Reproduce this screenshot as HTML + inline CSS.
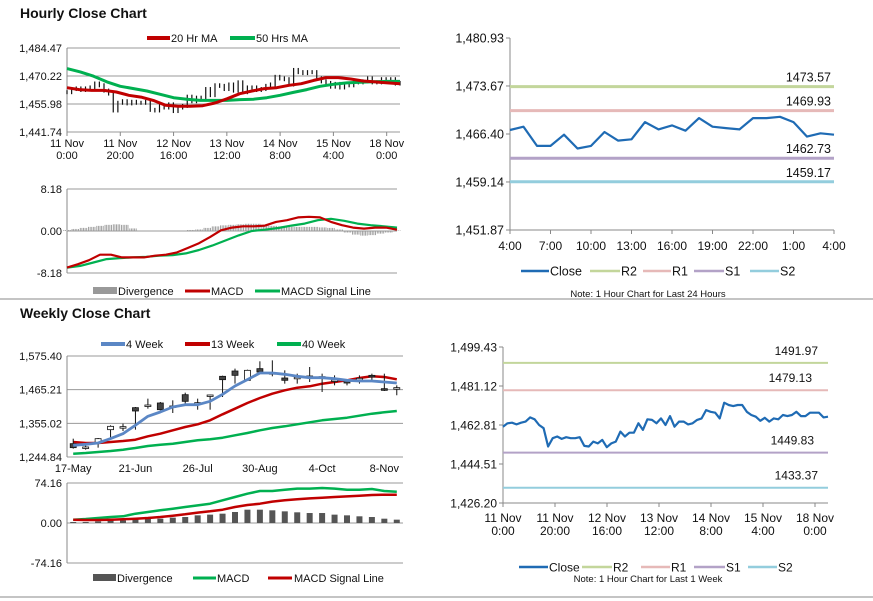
<!DOCTYPE html>
<html><head><meta charset="utf-8">
<style>
html,body{margin:0;padding:0;background:#fff;}
svg{display:block;font-family:"Liberation Sans",Arial,sans-serif;}
</style></head>
<body>
<svg id="root" width="873" height="601" viewBox="0 0 873 601" xmlns="http://www.w3.org/2000/svg">
<line x1="0" y1="299" x2="873" y2="299" stroke="#888" stroke-width="1"/>
<line x1="0" y1="597" x2="873" y2="597" stroke="#888" stroke-width="1"/>
<text x="20" y="18" font-size="14" font-weight="bold" fill="#111">Hourly Close Chart</text>
<text x="20" y="318" font-size="14" font-weight="bold" fill="#111">Weekly Close Chart</text>
</svg>
<script>
// ---------- DATA ----------
// Hourly closes, 11 Nov 0:00 -> 18 Nov (1 week)
const weekHourClose = [1462.0,1463.6,1463.9,1463.1,1463.9,1464.4,1466.4,1465.5,1462.8,1461.3,1452.7,1456.6,1457.4,1456.3,1457.1,1456.6,1456.6,1457.1,1453.0,1452.7,1455.0,1454.2,1455.8,1452.4,1454.2,1455.0,1459.7,1457.4,1459.2,1459.2,1463.6,1460.5,1465.5,1465.2,1463.6,1465.9,1462.8,1467.0,1462.0,1464.4,1464.4,1463.1,1463.6,1465.2,1465.9,1469.8,1469.0,1468.6,1465.9,1473.3,1472.2,1471.7,1472.2,1472.2,1469.0,1467.5,1466.7,1464.8,1466.2,1464.4,1465.9,1465.5,1467.5,1467.0,1467.5,1469.0,1467.0,1467.0,1468.6,1468.6,1468.6,1466.4,1466.7];
const ma20 = [1464.3,1463.3,1462.9,1462.9,1462.1,1460.4,1459.5,1457.8,1455.3,1454.8,1454.8,1455.1,1456.5,1458.7,1461.2,1462.6,1463.8,1464.3,1465.5,1466.3,1468.0,1469.4,1469.4,1468.7,1467.7,1467.2,1466.7,1466.3];
const ma50 = [1474.0,1472.3,1470.1,1467.2,1465.0,1463.8,1462.6,1460.9,1459.2,1458.4,1457.8,1457.8,1457.8,1458.2,1458.4,1459.2,1460.4,1461.9,1463.3,1465.0,1466.0,1466.7,1467.0,1467.3,1467.5,1467.5];
const hrTickLabels = [["11 Nov","0:00"],["11 Nov","20:00"],["12 Nov","16:00"],["13 Nov","12:00"],["14 Nov","8:00"],["15 Nov","4:00"],["18 Nov","0:00"]];
const hrPriceTicks = [1441.74,1455.98,1470.22,1484.47];
const hrMacd = [-7.13,-6.47,-5.68,-4.62,-4.62,-5.15,-5.15,-5.15,-4.82,-4.62,-4.16,-3.30,-2.38,-1.19,0.13,0.66,0.92,0.92,1.06,1.78,2.11,2.64,2.77,2.64,1.78,1.12,0.66,0.46,0.66,0.66,0.26];
const hrSignal = [-7.13,-6.80,-6.14,-5.48,-5.28,-5.15,-5.02,-4.82,-4.69,-4.36,-3.70,-2.84,-1.85,-0.86,0,0.26,0.59,1.06,1.45,2.11,2.38,1.98,1.45,1.12,0.92,0.66];
const hrDiverg = [0.2,0.4,0.6,0.8,1.0,1.2,1.3,1.2,0.5,0.1,0.1,0.1,0.1,0.1,0.1,0.2,0.3,0.6,0.9,1.1,1.2,1.3,1.4,1.4,1.2,1.0,0.9,0.8,0.8,0.8,0.8,0.7,0.6,0.3,-0.3,-0.7,-0.9,-0.8,-0.5,-0.3,0.1];
const hrMacdTicks = [-8.18,0,8.18];
// Last 24 hours
const dayClose = [1467.0,1467.5,1464.6,1464.6,1466.3,1464.2,1464.6,1466.7,1465.4,1465.6,1468.2,1467.1,1467.7,1466.9,1468.8,1467.5,1467.3,1467.1,1468.8,1468.8,1469.0,1468.2,1466.0,1466.5,1466.3];
const dayTickLabels = ["4:00","7:00","10:00","13:00","16:00","19:00","22:00","1:00","4:00"];
const dayPriceTicks = [1451.87,1459.14,1466.40,1473.67,1480.93];
const dayLevels = [1473.57,1469.93,1462.73,1459.17];
const weekLevels = [1491.97,1479.13,1449.83,1433.37];
const levelNames = ["R2","R1","S1","S2"];
const weekPriceTicks = [1426.20,1444.51,1462.81,1481.12,1499.43];
// Weekly candles
const wkOpen  = [1288.5,1277.6,1290.7,1334.3,1342.0,1406.3,1412.8,1421.6,1409.6,1448.8,1420.5,1445.6,1508.9,1526.3,1495.8,1534.0,1518.7,1503.4,1503.4,1507.8,1505.6,1494.7,1495.8,1500.1,1512.1,1468.5,1469.6];
const wkClose = [1275.4,1277.6,1304.8,1345.2,1344.1,1395.4,1415.0,1399.7,1411.8,1427.0,1422.7,1447.8,1497.9,1512.1,1528.5,1523.0,1520.8,1495.8,1505.6,1510.0,1507.8,1496.9,1487.0,1502.3,1506.7,1463.0,1471.8];
const wkHigh  = [1304.8,1286.3,1307.0,1348.5,1354.0,1408.5,1435.8,1424.9,1430.3,1455.4,1435.8,1448.8,1511.0,1533.9,1530.7,1558.0,1561.2,1528.5,1517.6,1539.4,1517.6,1512.1,1497.9,1512.1,1517.6,1517.6,1479.4];
const wkLow   = [1272.1,1268.8,1275.4,1304.8,1329.9,1334.3,1403.0,1397.6,1388.8,1419.4,1399.7,1399.7,1441.2,1484.9,1495.8,1517.6,1508.9,1484.9,1484.9,1490.3,1457.6,1479.4,1479.4,1484.9,1495.8,1460.8,1446.9];
const wk4  = [1283.0,1286.3,1290.7,1304.9,1321.2,1348.5,1378.0,1392.1,1408.5,1416.1,1416.1,1427.0,1449.9,1477.2,1498.0,1519.8,1519.8,1515.4,1508.9,1504.5,1504.5,1501.2,1495.8,1493.6,1493.6,1490.3,1487.0];
const wk13 = [1293.9,1290.7,1290.7,1293.9,1297.2,1301.6,1312.5,1321.2,1332.1,1343.0,1351.8,1364.8,1384.5,1403.0,1421.6,1437.9,1452.1,1463.0,1471.7,1476.1,1484.8,1490.3,1495.8,1503.4,1508.9,1506.7,1499.0];
const wk40 = [1255.7,1257.9,1261.2,1264.5,1268.8,1274.3,1280.8,1285.2,1288.5,1293.9,1299.4,1302.7,1308.1,1315.8,1323.4,1332.1,1339.8,1345.2,1351.8,1358.3,1364.8,1369.2,1373.6,1380.1,1386.7,1391.0,1395.4];
const wkTickLabels = ["17-May","21-Jun","26-Jul","30-Aug","4-Oct","8-Nov"];
const wkPriceTicks = [1244.84,1355.02,1465.21,1575.40];
const wkMacd   = [6.2,7.4,9.3,11.1,12.4,17.3,20.4,23.5,26.6,29.7,32.7,35.8,42.0,48.2,54.4,59.3,59.3,61.8,63.7,63.7,64.9,63.7,61.8,61.8,63.0,59.3,58.1];
const wkSignal = [6.2,5.6,5.6,6.2,6.8,8.0,9.3,11.1,13.6,16.1,19.2,21.6,24.7,29.7,33.4,35.8,39.6,42.0,43.9,45.7,46.9,48.2,49.4,50.7,51.9,52.5,52.5];
const wkDiverg = [1.9,1.9,3.1,4.9,4.9,6.8,8.0,8.0,9.9,11.1,14.2,15.5,17.3,20.4,24.7,24.7,23.5,21.6,19.8,18.5,18.5,15.5,14.2,12.4,11.1,8.0,6.2];
const wkMacdTicks = [-74.16,0,74.16];

// ---------- HELPERS ----------
const NS = "http://www.w3.org/2000/svg";
const root = document.getElementById("root");
function el(tag, attrs, parent){
  const e = document.createElementNS(NS, tag);
  for (const k in attrs) e.setAttribute(k, attrs[k]);
  (parent||root).appendChild(e);
  return e;
}
function txt(x,y,s,size,anchor,fill){
  const t = el("text",{x:x,y:y,"font-size":size,"text-anchor":anchor||"start",fill:fill||"#111"});
  t.textContent = s;
  return t;
}
function yScale(min,max,top,bot){ return v => bot - (v-min)/(max-min)*(bot-top); }
function fmt(v){ return v.toLocaleString("en-US",{minimumFractionDigits:2,maximumFractionDigits:2}); }
function polyline(xs, ys, color, w){
  return el("polyline",{points:xs.map((x,i)=>x.toFixed(1)+","+ys[i].toFixed(1)).join(" "),fill:"none",stroke:color,"stroke-width":w,"stroke-linejoin":"round"});
}
const RED="#c00000", GREEN="#00b050", BLUE4="#5b87c5", CLOSE="#1f6bb4";
const LEVEL_COLORS=["#c3d69b","#e6b9b8","#b3a2c7","#93cddd"];

// ---------- PANEL 1: hourly price ----------
(function(){
  const x0=67,x1=400,top=48,bot=132;
  const Y = yScale(1441.74,1484.47,top,bot);
  const X = (i,n)=> x0 + i/(n-1)*(x1-x0);
  hrPriceTicks.forEach(v=>{
    const g = el("line",{x1:x0,y1:Y(v),x2:x1,y2:Y(v),stroke:"#9a9a9a","stroke-width":1});
    
    
    const t = txt(62,Y(v)+4,fmt(v),11,"end");
    
    
  });
  const ax = el("line",{x1:x0,y1:top,x2:x0,y2:bot,stroke:"#888"});
  
  
  hrTickLabels.forEach((l,k)=>{
    const x = x0 + k*20/125*(x1-x0);
    const tk = el("line",{x1:x,y1:bot,x2:x,y2:bot+4,stroke:"#888"});
    
    
    const a = txt(x,bot+15,l[0],11,"middle");
    
    
    const b = txt(x,bot+27,l[1],11,"middle");
    
    
  });
  const n = weekHourClose.length;
  weekHourClose.forEach((v,i)=>{
    const p = i>0 ? weekHourClose[i-1] : v;
    const hi = Math.max(v,p), lo = Math.min(v,p);
    const b = el("line",{x1:X(i,n),y1:Y(hi)-2,x2:X(i,n),y2:Y(lo)+2,stroke:"#111","stroke-width":1.2});
    
    
  });
  const g50 = polyline(ma50.map((v,i)=>X(i,ma50.length)), ma50.map(Y), GREEN, 3);
  
  
  const r20 = polyline(ma20.map((v,i)=>X(i,ma20.length)), ma20.map(Y), RED, 3);
  
  
  const l1 = el("line",{x1:147,y1:38,x2:170,y2:38,stroke:RED,"stroke-width":4});
  
  
  const t1 = txt(171,42,"20 Hr MA",11);
  
  
  const l2 = el("line",{x1:230,y1:38,x2:255,y2:38,stroke:GREEN,"stroke-width":4});
  
  
  const t2 = txt(256,42,"50 Hrs MA",11);
  
  
})();

// ---------- PANEL 2: hourly MACD ----------
(function(){
  const x0=67,x1=397,top=189,bot=273;
  const Y = yScale(-8.18,8.18,top,bot);
  const X = (i,n)=> x0 + i/(n-1)*(x1-x0);
  hrMacdTicks.forEach(v=>{
    const g = el("line",{x1:x0,y1:Y(v),x2:x1,y2:Y(v),stroke:"#9a9a9a","stroke-width":1});
    
    
    const t = txt(62,Y(v)+4,fmt(v),11,"end");
    
    
  });
  const ax = el("line",{x1:x0,y1:top,x2:x0,y2:bot,stroke:"#888"});
  
  
  const n = hrDiverg.length;
  hrDiverg.forEach((v,i)=>{
    const x = X(i,n);
    for (let k=-2;k<=2;k++){
      const b = el("line",{x1:x+k*1.6,y1:Y(0),x2:x+k*1.6,y2:Y(v),stroke:"#999","stroke-width":0.9});
      
      
    }
  });
  const g = polyline(hrSignal.map((v,i)=>X(i,hrSignal.length)), hrSignal.map(Y), GREEN, 2.2);
  
  
  const r = polyline(hrMacd.map((v,i)=>X(i,hrMacd.length)), hrMacd.map(Y), RED, 2.2);
  
  
  const s1 = el("rect",{x:93,y:287,width:24,height:7,fill:"#999"});
  
  
  const t1 = txt(118,295,"Divergence",11);
  
  
  const s2 = el("line",{x1:185,y1:291,x2:210,y2:291,stroke:RED,"stroke-width":3});
  
  
  const t2 = txt(211,295,"MACD",11);
  
  
  const s3 = el("line",{x1:255,y1:291,x2:280,y2:291,stroke:GREEN,"stroke-width":3});
  
  
  const t3 = txt(281,295,"MACD Signal Line",11);
  
  
})();

// ---------- Level chart (24h and 1 week) ----------
function levelChart(cfg){
  const {x0,x1,top,bot,min,max,ticks,closes,levels,labelRight,legendY,note,noteY,tickFn,fs} = cfg;
  const Y = yScale(min,max,top,bot);
  const ax = el("line",{x1:x0,y1:top,x2:x0,y2:bot,stroke:"#888"});
  
  
  const bx = el("line",{x1:x0,y1:bot,x2:x1,y2:bot,stroke:"#888"});
  
  
  ticks.forEach(v=>{
    const tk = el("line",{x1:x0-4,y1:Y(v),x2:x0,y2:Y(v),stroke:"#888"});
    
    
    const t = txt(x0-6,Y(v)+4.5,fmt(v),fs,"end");
    
    
  });
  tickFn(Y);
  levels.forEach((v,k)=>{
    const l = el("line",{x1:x0,y1:Y(v),x2:x1,y2:Y(v),stroke:LEVEL_COLORS[k],"stroke-width":cfg.levelW});
    
    
    const t = txt(labelRight[k],Y(v)-cfg.labelOff,v.toFixed(2),fs,"end");
    
    
  });
  const n = closes.length;
  const c = polyline(closes.map((v,i)=>x0+i/(n-1)*(x1-x0)*cfg.span), closes.map(Y), CLOSE, 2.2);
  
  
  const lg = cfg.legend;
  const names = ["Close"].concat(levelNames);
  const cols = [CLOSE].concat(LEVEL_COLORS);
  names.forEach((nm,k)=>{
    const s = el("line",{x1:lg[k][0],y1:legendY,x2:lg[k][1],y2:legendY,stroke:cols[k],"stroke-width":2.5});
    
    
    const t = txt(lg[k][1]+1,legendY+4.5,nm,fs);
    
    
  });
  const nt = txt(cfg.noteX,noteY,note,9.5,"middle");
  
  
}

levelChart({prefix:"day",x0:510,x1:834,top:38,bot:230,min:1451.87,max:1480.93,ticks:dayPriceTicks,
  closes:dayClose,levels:dayLevels,labelRight:[831,831,831,831],labelOff:5,levelW:3,span:1,fs:12.5,
  legendY:271,legend:[[521,549],[590,620],[643,671],[694,724],[750,779]],
  note:"Note: 1 Hour Chart for Last 24 Hours",noteX:648,noteY:297,
  tickFn:function(Y){
    dayTickLabels.forEach((l,k)=>{
      const x = 510 + k*(834-510)/(dayTickLabels.length-1);
      const tk = el("line",{x1:x,y1:230,x2:x,y2:234,stroke:"#888"});
      
      
      const t = txt(x,250,l,12,"middle");
      
      
    });
  }});

levelChart({prefix:"week-hourly",x0:503,x1:828,top:347,bot:503,min:1426.20,max:1499.43,ticks:weekPriceTicks,
  closes:weekHourClose,levels:weekLevels,labelRight:[818,812,814,818],labelOff:8,levelW:2,span:1,fs:12,
  legendY:567,legend:[[519,548],[582,612],[641,670],[694,725],[748,777]],
  note:"Note: 1 Hour Chart for Last 1 Week",noteX:648,noteY:582,
  tickFn:function(Y){
    hrTickLabels.forEach((l,k)=>{
      const x = 503 + k*20/125*(828-503);
      const tk = el("line",{x1:x,y1:503,x2:x,y2:507,stroke:"#888"});
      
      
      const a = txt(x,522,l[0],12,"middle");
      
      
      const b = txt(x,535,l[1],12,"middle");
      
      
    });
  }});

// ---------- Weekly price ----------
(function(){
  const x0=67,x1=403,top=356,bot=457;
  const Y = yScale(1244.84,1575.40,top,bot);
  const n = wkClose.length, slot=(x1-x0)/n;
  const X = i => x0 + slot*(i+0.5);
  wkPriceTicks.forEach(v=>{
    const g = el("line",{x1:x0,y1:Y(v),x2:x1,y2:Y(v),stroke:"#9a9a9a"});
    
    
    const t = txt(62,Y(v)+4,fmt(v),11,"end");
    
    
  });
  const ax = el("line",{x1:x0,y1:top,x2:x0,y2:bot,stroke:"#888"});
  
  
  wkTickLabels.forEach((l,k)=>{
    const t = txt(X(k*5),472,l,11,"middle");
    
    
  });
  const g40 = polyline(wk40.map((v,i)=>X(i)), wk40.map(Y), GREEN, 2.5);
  
  
  const r13 = polyline(wk13.map((v,i)=>X(i)), wk13.map(Y), RED, 2.5);
  
  
  for (let i=0;i<n;i++){
    const w = el("line",{x1:X(i),y1:Y(wkHigh[i]),x2:X(i),y2:Y(wkLow[i]),stroke:"#111","stroke-width":1});
    
    
    const hi = Math.max(wkOpen[i],wkClose[i]), lo = Math.min(wkOpen[i],wkClose[i]);
    const up = wkClose[i]>=wkOpen[i];
    const b = el("rect",{x:X(i)-3,y:Y(hi),width:6,height:Math.max(1.5,Y(lo)-Y(hi)),fill:up?"#fff":"#444",stroke:"#111","stroke-width":0.8});
    
    
  }
  const b4 = polyline(wk4.map((v,i)=>X(i)), wk4.map(Y), BLUE4, 2.8);
  
  
  const items=[[101,125,BLUE4,"4 Week"],[185,210,RED,"13 Week"],[277,301,GREEN,"40 Week"]];
  items.forEach(it=>{
    const s = el("line",{x1:it[0],y1:344,x2:it[1],y2:344,stroke:it[2],"stroke-width":4});
    
    
    const t = txt(it[1]+1,348,it[3],11);
    
    
  });
})();

// ---------- Weekly MACD ----------
(function(){
  const x0=67,x1=403,top=483,bot=563;
  const Y = yScale(-74.16,74.16,top,bot);
  const n = wkMacd.length, slot=(x1-x0)/n;
  const X = i => x0 + slot*(i+0.5);
  wkMacdTicks.forEach(v=>{
    const g = el("line",{x1:x0,y1:Y(v),x2:x1,y2:Y(v),stroke:"#9a9a9a"});
    
    
    const t = txt(62,Y(v)+4,fmt(v),11,"end");
    
    
  });
  const ax = el("line",{x1:x0,y1:top,x2:x0,y2:bot,stroke:"#888"});
  
  
  wkDiverg.forEach((v,i)=>{
    const b = el("rect",{x:X(i)-3,y:Y(v),width:6,height:Y(0)-Y(v),fill:"#555"});
    
    
  });
  const g = polyline(wkMacd.map((v,i)=>X(i)), wkMacd.map(Y), GREEN, 2.5);
  
  
  const r = polyline(wkSignal.map((v,i)=>X(i)), wkSignal.map(Y), RED, 2.5);
  
  
  const s1 = el("rect",{x:93,y:574,width:23,height:7,fill:"#555"});
  
  
  const t1 = txt(117,582,"Divergence",11);
  
  
  const s2 = el("line",{x1:193,y1:578,x2:216,y2:578,stroke:GREEN,"stroke-width":3});
  
  
  const t2 = txt(217,582,"MACD",11);
  
  
  const s3 = el("line",{x1:268,y1:578,x2:292,y2:578,stroke:RED,"stroke-width":3});
  
  
  const t3 = txt(294,582,"MACD Signal Line",11);
  
  
})();
</script>
</body></html>
